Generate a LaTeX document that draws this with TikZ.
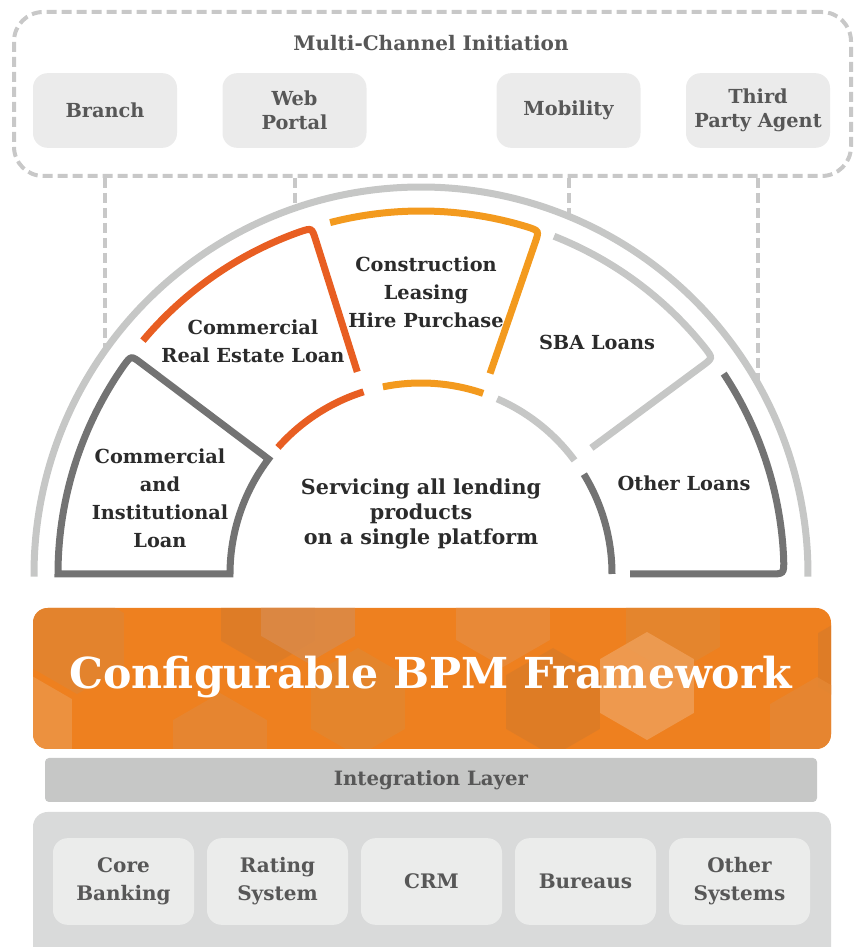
\documentclass[tikz,border=0pt]{standalone}
\usepackage{fontspec}
\setmainfont{DejaVu Serif}
\usetikzlibrary{calc}

\definecolor{dashgray}{HTML}{C8C8C8}
\definecolor{boxgray}{HTML}{EBEBEB}
\definecolor{txtgray}{HTML}{575757}
\definecolor{darktxt}{HTML}{2B2B2B}
\definecolor{secdark}{HTML}{737373}
\definecolor{secred}{HTML}{E85E22}
\definecolor{secorange}{HTML}{F39A1E}
\definecolor{seclight}{HTML}{C6C7C6}
\definecolor{bpmorange}{HTML}{EE801F}
\definecolor{intgray}{HTML}{C6C7C6}
\definecolor{contgray}{HTML}{D9DADA}
\definecolor{sysgray}{HTML}{EBECEB}

\begin{document}
\begin{tikzpicture}[x=0.75pt,y=0.75pt,
  dashline/.style={draw=dashgray, line width=3pt, dash pattern=on 7.5pt off 3.75pt},
  chan/.style={fill=boxgray, rounded corners=11pt, minimum width=108pt, minimum height=56pt,
    text=txtgray, font=\bfseries\fontsize{14.5}{18}\selectfont, align=center, inner sep=0pt},
  sysbox/.style={fill=sysgray, rounded corners=11pt, minimum width=105.75pt, minimum height=65pt,
    text=txtgray, font=\bfseries\fontsize{15}{21}\selectfont, align=center, inner sep=0pt},
  sector/.style={line width=5.25pt, line cap=butt, line join=miter},
  arctext/.style={text=darktxt, font=\bfseries\fontsize{14.5}{21}\selectfont, align=center, inner sep=0pt}
]
\useasboundingbox (0,0) rectangle (859,947);

% ---------- channel frame ----------
\node[dashline, rounded corners=22pt, minimum width=627.75pt, minimum height=123pt] (frame) at (432.5,853) {};
\node[text=txtgray, font=\bfseries\fontsize{15}{18}\selectfont, inner sep=0pt] (mci) at (431,904) {Multi-Channel Initiation};
\node[chan] (branch) at (105,836.5) {Branch};
\node[chan] (web) at (294.5,836.5) {Web\\Portal};
\node[chan] (mob) at (568.5,836.5) {Mobility};
\node[chan] (tpa) at (758,836.5) {Third\\Party Agent};

% centre of the half wheel
\coordinate (C) at (421,373);

% drop lines from the frame onto the outer ring
\coordinate (e1) at (105,596);
\coordinate (e2) at (294.5,738);
\coordinate (e3) at (568.5,731);
\coordinate (e4) at (758,562);
\draw[dashline] (branch |- frame.south) -- (e1);
\draw[dashline] (web |- frame.south) -- (e2);
\draw[dashline] (mob |- frame.south) -- (e3);
\draw[dashline] (tpa |- frame.south) -- (e4);

% outer ring
\draw[seclight, line width=5.25pt] ($(C)+(180.4:387)$) arc[start angle=180.4, end angle=-0.4, radius=387];

% ---------- sectors ----------
% commercial and institutional
\draw[sector, secdark] ($(C)+(180:191)$) -- ($(C)+(180:363)$)
  arc[start angle=180, end angle=145, radius=363]
  .. controls ($(C)+(143:363)$) .. ($(C)+(143:350)$)
  -- ($(C)+(143:191)$) arc[start angle=143, end angle=180, radius=191] -- cycle;
% commercial real estate
\draw[sector, secred] ($(C)+(140:363)$) arc[start angle=140, end angle=109.5, radius=363]
  .. controls ($(C)+(107.5:363)$) .. ($(C)+(107.5:350)$) -- ($(C)+(107.5:212)$);
\draw[sector, secred] ($(C)+(107.5:191)$) arc[start angle=107.5, end angle=138.5, radius=191];
% construction / leasing
\draw[sector, secorange] ($(C)+(104.5:363)$) arc[start angle=104.5, end angle=73, radius=363]
  .. controls ($(C)+(71:363)$) .. ($(C)+(71:350)$) -- ($(C)+(71:212)$);
\draw[sector, secorange] ($(C)+(71:191)$) arc[start angle=71, end angle=101.5, radius=191];
% SBA loans
\draw[sector, seclight] ($(C)+(68.5:363)$) arc[start angle=68.5, end angle=38.5, radius=363]
  .. controls ($(C)+(36.5:363)$) .. ($(C)+(36.5:350)$) -- ($(C)+(36.5:212)$);
\draw[sector, seclight] ($(C)+(36.5:191)$) arc[start angle=36.5, end angle=66.5, radius=191];
% other loans
\draw[sector, secdark] ($(C)+(33.5:363)$) arc[start angle=33.5, end angle=2.3, radius=363]
  .. controls ($(C)+(0:363)$) .. ($(C)+(0:348)$) -- ($(C)+(0:209)$);
\draw[sector, secdark] ($(C)+(0:191)$) arc[start angle=0, end angle=31.5, radius=191];

% sector labels
\node[arctext] (cil) at (160,448.5) {Commercial\\and\\Institutional\\Loan};
\node[arctext] (cre) at (253,606) {Commercial\\Real Estate Loan};
\node[arctext] (clh) at (426,655) {Construction\\Leasing\\Hire Purchase};
\node[arctext] (sba) at (597,605) {SBA Loans};
\node[arctext] (oth) at (684,464) {Other Loans};
\node[arctext, font=\bfseries\fontsize{15.5}{18.5}\selectfont] (serv) at (421,433)
  {Servicing all lending\\products\\on a single platform};

% ---------- BPM framework band ----------
\fill[bpmorange, rounded corners=11pt] (33,198) rectangle (831,339);
\begin{scope}
  \clip[rounded corners=11pt] (33,198) rectangle (831,339);
  \foreach \hx/\hy/\hc in {
      77/307/E28430, 25/221/EC9445, 268/333/DC7C28, 308/338/DB8A48,
      358/245/E3872F, 220/200/E58733, 503/334/E88B3C, 553/245/DC7C27,
      673/327/E38730, 647/261/EE9E57, 865/287/DC7C28, 817/216/E58733}
  {
    \definecolor{hexfill}{HTML}{\hc}
    \fill[hexfill, opacity=0.85] (\hx,\hy) +(90:54) -- +(30:54) -- +(-30:54)
      -- +(-90:54) -- +(-150:54) -- +(150:54) -- cycle;
  }
\end{scope}
\node[text=white, font=\bfseries\fontsize{32}{36}\selectfont, inner sep=0pt] (bpm) at (431,270)
  {Configurable BPM Framework};

% ---------- integration layer ----------
\node[fill=intgray, rounded corners=3pt, minimum width=579pt, minimum height=33pt,
  text=txtgray, font=\bfseries\fontsize{14.8}{17}\selectfont, inner sep=0pt] (integ) at (431,167)
  {Integration Layer};

% ---------- back-end systems ----------
\fill[contgray, rounded corners=11pt] (33,-30) rectangle (831,135);
\node[sysbox] (core) at (123.5,65.5) {Core\\Banking};
\node[sysbox] (rating) at (277.5,65.5) {Rating\\System};
\node[sysbox] (crm) at (431.5,65.5) {CRM};
\node[sysbox] (bureaus) at (585.5,65.5) {Bureaus};
\node[sysbox] (othsys) at (739.5,65.5) {Other\\Systems};
\end{tikzpicture}
\end{document}
